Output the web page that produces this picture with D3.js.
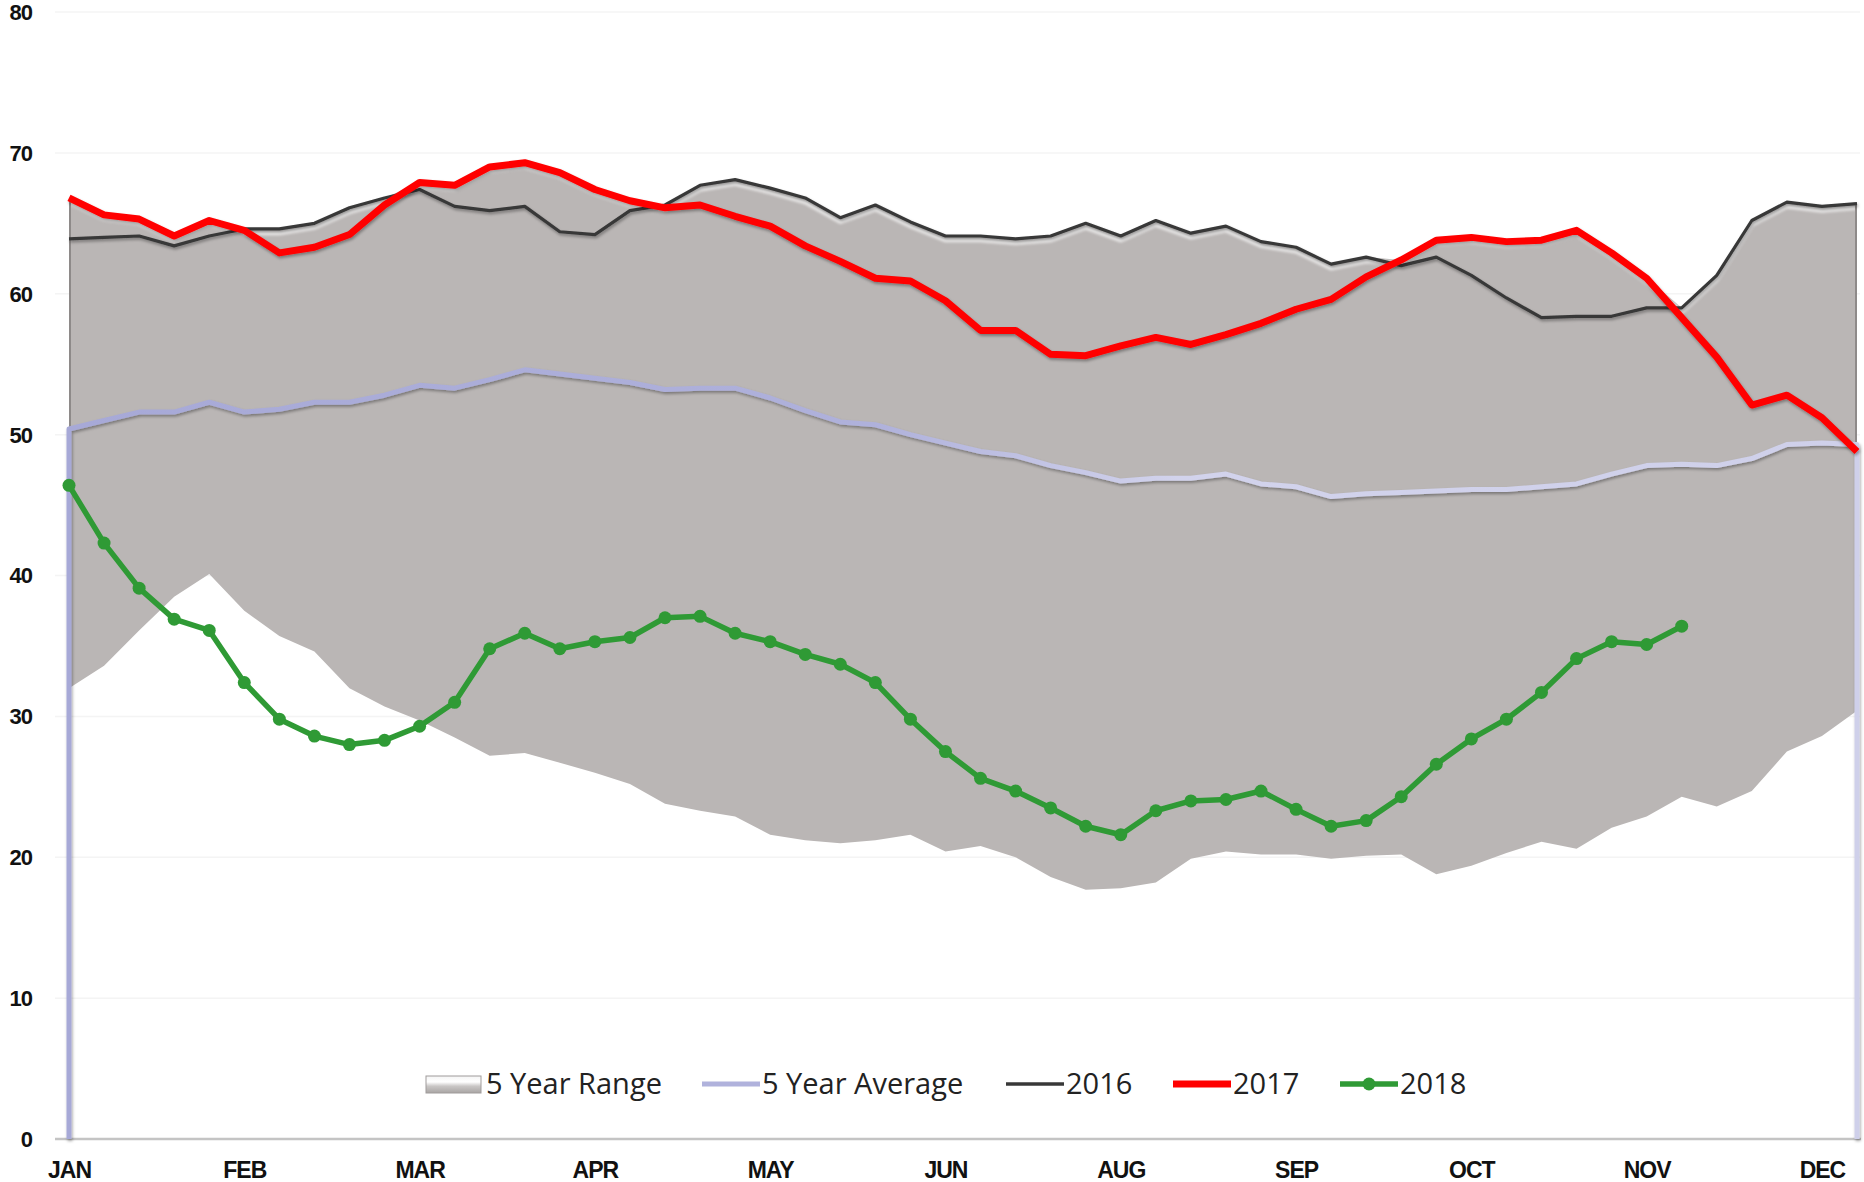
<!DOCTYPE html>
<html>
<head>
<meta charset="utf-8">
<script src="https://cdn.jsdelivr.net/npm/d3@7/dist/d3.min.js"></script>
<style>
	body { margin: 0; background: #fff; }
	#chart svg { display: block; }
	.ylab, .xlab { font-family: 'Liberation Sans', Arial, sans-serif; font-weight: bold; fill: #111; }
	.leg { font-family: 'Open Sans', sans-serif; fill: #222; }
</style>
</head>
<body>
<div id="chart"></div>
<script>
// weekly values, 52 weeks
var months = [ 'JAN', 'FEB', 'MAR', 'APR', 'MAY', 'JUN', 'AUG', 'SEP', 'OCT', 'NOV', 'DEC' ];
var monthWeeks = [ 0, 5, 10, 15, 20, 25, 30, 35, 40, 45, 50 ];
var yTicks = [ 0, 10, 20, 30, 40, 50, 60, 70, 80 ];

var rangeLow = [
	32.0, 33.6, 36.1, 38.5, 40.1, 37.5, 35.7, 34.6, 32.0, 30.7, 29.7, 28.5, 27.2, 27.4, 26.7, 26.0, 25.2, 23.8,
	23.3, 22.9, 21.6, 21.2, 21.0, 21.2, 21.6, 20.4, 20.8, 20.0, 18.6, 17.7, 17.8, 18.2, 19.9, 20.4, 20.2, 20.2,
	19.9, 20.1, 20.2, 18.8, 19.4, 20.3, 21.1, 20.6, 22.1, 22.9, 24.3, 23.6, 24.7, 27.5, 28.6, 30.4
];
var rangeHigh = [
	66.8, 65.6, 65.3, 64.1, 65.2, 64.6, 64.6, 65.0, 66.1, 66.8, 67.9, 67.7, 69.0, 69.3, 68.6, 67.4, 66.6, 66.3,
	67.7, 68.1, 67.5, 66.8, 65.4, 66.3, 65.1, 64.1, 64.1, 63.9, 64.1, 65.0, 64.1, 65.2, 64.3, 64.8, 63.7, 63.3,
	62.1, 62.6, 62.4, 63.8, 64.0, 63.7, 63.8, 64.5, 62.9, 61.1, 59.0, 61.3, 65.2, 66.5, 66.2, 66.4
];
var avg5 = [
	50.4, 51.0, 51.6, 51.6, 52.3, 51.6, 51.8, 52.3, 52.3, 52.8, 53.5, 53.3, 53.9, 54.6, 54.3, 54.0, 53.7, 53.2,
	53.3, 53.3, 52.6, 51.7, 50.9, 50.7, 50.0, 49.4, 48.8, 48.5, 47.8, 47.3, 46.7, 46.9, 46.9, 47.2, 46.5, 46.3,
	45.6, 45.8, 45.9, 46.0, 46.1, 46.1, 46.3, 46.5, 47.2, 47.8, 47.9, 47.8, 48.3, 49.3, 49.4, 49.3
];
var y2016 = [
	63.9, 64.0, 64.1, 63.4, 64.1, 64.6, 64.6, 65.0, 66.1, 66.8, 67.4, 66.2, 65.9, 66.2, 64.4, 64.2, 65.9, 66.3,
	67.7, 68.1, 67.5, 66.8, 65.4, 66.3, 65.1, 64.1, 64.1, 63.9, 64.1, 65.0, 64.1, 65.2, 64.3, 64.8, 63.7, 63.3,
	62.1, 62.6, 62.0, 62.6, 61.3, 59.7, 58.3, 58.4, 58.4, 59.0, 59.0, 61.3, 65.2, 66.5, 66.2, 66.4
];
var y2017 = [
	66.8, 65.6, 65.3, 64.1, 65.2, 64.5, 62.9, 63.3, 64.2, 66.3, 67.9, 67.7, 69.0, 69.3, 68.6, 67.4, 66.6, 66.1,
	66.3, 65.5, 64.8, 63.4, 62.3, 61.1, 60.9, 59.5, 57.4, 57.4, 55.7, 55.6, 56.3, 56.9, 56.4, 57.1, 57.9, 58.9,
	59.6, 61.2, 62.4, 63.8, 64.0, 63.7, 63.8, 64.5, 62.9, 61.1, 58.3, 55.5, 52.1, 52.8, 51.2, 48.8
];
var y2018 = [
	46.4, 42.3, 39.1, 36.9, 36.1, 32.4, 29.8, 28.6, 28.0, 28.3, 29.3, 31.0, 34.8, 35.9, 34.8, 35.3, 35.6, 37.0,
	37.1, 35.9, 35.3, 34.4, 33.7, 32.4, 29.8, 27.5, 25.6, 24.7, 23.5, 22.2, 21.6, 23.3, 24.0, 24.1, 24.7, 23.4,
	22.2, 22.6, 24.3, 26.6, 28.4, 29.8, 31.7, 34.1, 35.3, 35.1, 36.4
];

var w = 1864,
	h = 1182;

var margin = { top: 12, right: 7, bottom: 43, left: 69 },
	width = w - margin.left - margin.right,
	height = h - margin.top - margin.bottom;

var xScale = d3.scalePoint().domain(d3.range(52)).range([ 0, width ]);
var yScale = d3.scaleLinear().domain([ 0, 80 ]).range([ height, 0 ]);

var root = d3.select('#chart').append('svg').attr('width', w).attr('height', h);

var defs = root.append('defs');
var shadow = defs.append('filter').attr('id', 'shadow').attr('x', '-5%').attr('y', '-5%').attr('width', '110%').attr('height', '120%');
shadow
	.append('feDropShadow')
	.attr('dx', 1)
	.attr('dy', 2)
	.attr('stdDeviation', 1.5)
	.attr('flood-color', '#000')
	.attr('flood-opacity', 0.35);
defs.append('filter').attr('id', 'blur').append('feGaussianBlur').attr('stdDeviation', 1.6);

var avgGrad = defs
	.append('linearGradient')
	.attr('id', 'avgGrad')
	.attr('gradientUnits', 'userSpaceOnUse')
	.attr('x1', 0)
	.attr('x2', width)
	.attr('y1', 0)
	.attr('y2', 0);
avgGrad.append('stop').attr('offset', 0).attr('stop-color', '#a7a9d7');
avgGrad.append('stop').attr('offset', 0.45).attr('stop-color', '#afb1db');
avgGrad.append('stop').attr('offset', 0.62).attr('stop-color', '#d2d3ec');
avgGrad.append('stop').attr('offset', 1).attr('stop-color', '#cfd0ea');

var svg = root.append('g').attr('transform', 'translate(' + margin.left + ',' + margin.top + ')');

// faint gridlines
svg
	.selectAll('.grid')
	.data(yTicks.slice(1))
	.enter()
	.append('line')
	.attr('class', 'grid')
	.attr('x1', -14)
	.attr('x2', width + 3)
	.attr('y1', function(d) {
		return yScale(d);
	})
	.attr('y2', function(d) {
		return yScale(d);
	})
	.attr('stroke', '#f4f4f4')
	.attr('stroke-width', 1.5);

// y labels
svg
	.selectAll('.ylab')
	.data(yTicks)
	.enter()
	.append('text')
	.attr('class', 'ylab')
	.attr('x', -37)
	.attr('y', function(d) {
		return yScale(d);
	})
	.attr('dy', '0.36em')
	.attr('text-anchor', 'end')
	.style('font-size', '22px')
	.style('letter-spacing', '-1px')
	.text(function(d) {
		return d;
	});

// 5 year range
var area = d3
	.area()
	.x(function(d, i) {
		return xScale(i);
	})
	.y0(function(d, i) {
		return yScale(rangeLow[i]);
	})
	.y1(function(d, i) {
		return yScale(d);
	});

defs.append('clipPath').attr('id', 'rangeClip').append('path').attr('d', area(rangeHigh));

svg.append('path').attr('d', area(rangeHigh)).attr('fill', '#bab6b5');

var topLine = d3
	.line()
	.x(function(d, i) {
		return xScale(i);
	})
	.y(function(d) {
		return yScale(d);
	});

svg
	.append('g')
	.attr('clip-path', 'url(#rangeClip)')
	.append('path')
	.attr('d', topLine(rangeHigh))
	.attr('transform', 'translate(0,4)')
	.attr('fill', 'none')
	.attr('stroke', '#ffffff')
	.attr('stroke-width', 4)
	.attr('opacity', 0.85)
	.attr('filter', 'url(#blur)');

// darker side edges of the range
[ 0, 51 ].forEach(function(i) {
	svg
		.append('line')
		.attr('x1', xScale(i) + (i == 0 ? 1 : -1))
		.attr('x2', xScale(i) + (i == 0 ? 1 : -1))
		.attr('y1', yScale(rangeHigh[i]))
		.attr('y2', yScale(rangeLow[i]))
		.attr('stroke', '#8e8a89')
		.attr('stroke-width', 2);
});

// x axis line
svg
	.append('line')
	.attr('x1', -14)
	.attr('x2', width + 4)
	.attr('y1', height)
	.attr('y2', height)
	.attr('stroke', '#c4c4c4')
	.attr('stroke-width', 2.5);

// 5 year average, closed down to zero at both ends
var avgPts = [ [ 0, 0 ] ]
	.concat(
		avg5.map(function(d, i) {
			return [ i, d ];
		})
	)
	.concat([ [ 51, 0 ] ]);
var avgLine = d3
	.line()
	.x(function(d) {
		return xScale(d[0]);
	})
	.y(function(d) {
		return yScale(d[1]);
	});
svg
	.append('path')
	.attr('d', avgLine(avgPts))
	.attr('fill', 'none')
	.attr('stroke', 'url(#avgGrad)')
	.attr('stroke-width', 5)
	.attr('stroke-linejoin', 'round')
	.attr('filter', 'url(#shadow)');

svg
	.append('path')
	.attr('d', topLine(y2016))
	.attr('fill', 'none')
	.attr('stroke', '#383838')
	.attr('stroke-width', 3.2)
	.attr('stroke-linejoin', 'round')
	.attr('filter', 'url(#shadow)');

svg
	.append('path')
	.attr('d', topLine(y2017))
	.attr('fill', 'none')
	.attr('stroke', '#ff0000')
	.attr('stroke-width', 7)
	.attr('stroke-linejoin', 'round')
	.attr('filter', 'url(#shadow)');

svg
	.append('path')
	.attr('d', topLine(y2018))
	.attr('fill', 'none')
	.attr('stroke', '#2f9a35')
	.attr('stroke-width', 5.5)
	.attr('stroke-linejoin', 'round');

svg
	.selectAll('.dot')
	.data(y2018)
	.enter()
	.append('circle')
	.attr('class', 'dot')
	.attr('cx', function(d, i) {
		return xScale(i);
	})
	.attr('cy', function(d) {
		return yScale(d);
	})
	.attr('r', 6.5)
	.attr('fill', '#2f9a35');

// month labels
var xAxis = d3
	.axisBottom(xScale)
	.tickValues(monthWeeks)
	.tickSize(0)
	.tickPadding(0)
	.tickFormat(function(d, i) {
		return months[i];
	});
var gx = svg.append('g').attr('transform', 'translate(0,' + (height + 31) + ')').call(xAxis);
gx.select('.domain').remove();
gx
	.selectAll('text')
	.attr('class', 'xlab')
	.attr('dy', '0.36em')
	.attr('y', 0)
	.style('font-size', '23px')
	.style('letter-spacing', '-1px');

// legend
var legend = [
	{ name: '5 Year Range', x: 426, type: 'range' },
	{ name: '5 Year Average', x: 702, type: 'line', color: '#b0b2dc', sw: 5 },
	{ name: '2016', x: 1006, type: 'line', color: '#383838', sw: 3.5 },
	{ name: '2017', x: 1173, type: 'line', color: '#ff0000', sw: 7 },
	{ name: '2018', x: 1340, type: 'dot', color: '#2f9a35', sw: 5.5 }
];
var ly = 1084;
var legGrad = defs
	.append('linearGradient')
	.attr('id', 'legGrad')
	.attr('x1', 0)
	.attr('x2', 0)
	.attr('y1', 0)
	.attr('y2', 1);
legGrad.append('stop').attr('offset', 0).attr('stop-color', '#f4f4f4');
legGrad.append('stop').attr('offset', 0.35).attr('stop-color', '#ffffff');
legGrad.append('stop').attr('offset', 0.6).attr('stop-color', '#c9c6c5');
legGrad.append('stop').attr('offset', 1).attr('stop-color', '#a9a5a4');

var lg = root.append('g');
legend.forEach(function(d) {
	if (d.type == 'range') {
		lg
			.append('rect')
			.attr('x', d.x)
			.attr('y', ly - 8)
			.attr('width', 55)
			.attr('height', 17)
			.attr('fill', 'url(#legGrad)')
			.attr('stroke', '#a09c9b')
			.attr('stroke-width', 1);
	} else {
		lg
			.append('line')
			.attr('x1', d.x)
			.attr('x2', d.x + 58)
			.attr('y1', ly)
			.attr('y2', ly)
			.attr('stroke', d.color)
			.attr('stroke-width', d.sw);
		if (d.type == 'dot') {
			lg.append('circle').attr('cx', d.x + 29).attr('cy', ly).attr('r', 6.5).attr('fill', d.color);
		}
	}
	lg
		.append('text')
		.attr('class', 'leg')
		.attr('x', d.x + 60)
		.attr('y', ly)
		.attr('dy', '0.36em')
		.style('font-size', '29px')
		.text(d.name);
});
</script>
</body>
</html>
